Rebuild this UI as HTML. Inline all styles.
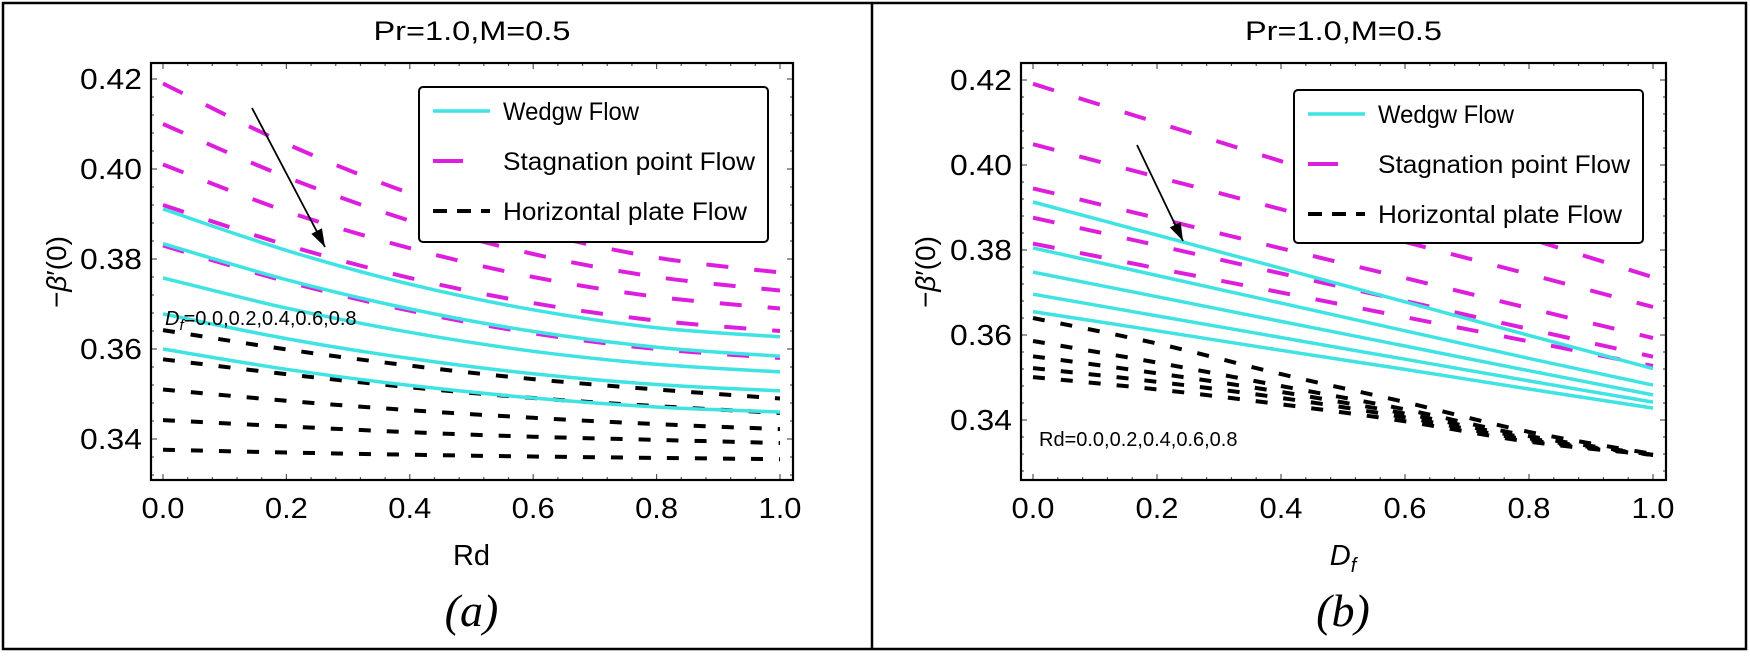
<!DOCTYPE html>
<html><head><meta charset="utf-8"><style>
html,body{margin:0;padding:0;background:#fff;}
svg{display:block;font-family:"Liberation Sans",sans-serif;}
</style></head><body>
<svg id="fig" width="1750" height="657" viewBox="0 0 1750 657" xmlns="http://www.w3.org/2000/svg">
<rect x="0" y="0" width="1750" height="657" fill="#fff"/>
<rect x="3" y="3" width="1743" height="646" fill="none" stroke="#000" stroke-width="2.5"/>
<line x1="872" y1="3" x2="872" y2="649" stroke="#000" stroke-width="2.5"/>
</svg>
<script>
// shared data
const xCats = [0, 0.2, 0.4, 0.6, 0.8, 1.0];
const xTickLabels = ["0.0","0.2","0.4","0.6","0.8","1.0"];
const yTickValues = [0.42, 0.40, 0.38, 0.36, 0.34];
const yTickLabels = ["0.42","0.40","0.38","0.36","0.34"];
// panel (a): x = Rd
const aWedge = [
 [0.3911,0.3819,0.3744,0.3687,0.3647,0.3627],
 [0.3834,0.3754,0.3689,0.3639,0.3604,0.3584],
 [0.3758,0.3691,0.3637,0.3595,0.3566,0.3549],
 [0.3678,0.3623,0.3579,0.3545,0.3521,0.3507],
 [0.3600,0.3555,0.3519,0.3491,0.3471,0.3460]];
const aStag = [
 [0.4190,0.4056,0.3946,0.3862,0.3803,0.3770],
 [0.4100,0.3982,0.3885,0.3811,0.3760,0.3730],
 [0.4010,0.3906,0.3824,0.3760,0.3716,0.3690],
 [0.3920,0.3831,0.3758,0.3702,0.3663,0.3640],
 [0.3830,0.3750,0.3685,0.3635,0.3600,0.3580]];
const aPlate = [
 [0.3642,0.3599,0.3563,0.3533,0.3510,0.3490],
 [0.3577,0.3544,0.3515,0.3491,0.3473,0.3458],
 [0.3510,0.3485,0.3464,0.3447,0.3433,0.3422],
 [0.3442,0.3428,0.3415,0.3405,0.3398,0.3391],
 [0.3376,0.3370,0.3365,0.3361,0.3358,0.3355]];
// panel (b): x = Df
const bWedge = [
 [0.3913,0.3835,0.3757,0.3678,0.3599,0.3521],
 [0.3805,0.3740,0.3675,0.3610,0.3545,0.3482],
 [0.3748,0.3690,0.3632,0.3574,0.3516,0.3459],
 [0.3696,0.3645,0.3594,0.3543,0.3492,0.3442],
 [0.3655,0.3610,0.3564,0.3519,0.3473,0.3428]];
const bStag = [
 [0.4191,0.4100,0.4009,0.3918,0.3827,0.3736],
 [0.4049,0.3972,0.3896,0.3819,0.3743,0.3666],
 [0.3945,0.3875,0.3804,0.3734,0.3663,0.3593],
 [0.3876,0.3811,0.3745,0.3680,0.3614,0.3549],
 [0.3815,0.3757,0.3700,0.3642,0.3585,0.3527]];
const bPlate = [
 [0.3640,0.3580,0.3508,0.3442,0.3372,0.3320],
 [0.3586,0.3535,0.3480,0.3425,0.3362,0.3318],
 [0.3550,0.3510,0.3466,0.3415,0.3357,0.3318],
 [0.3522,0.3490,0.3452,0.3406,0.3353,0.3318],
 [0.3501,0.3472,0.3437,0.3397,0.3349,0.3318]];

const NS = "http://www.w3.org/2000/svg";
const svg = document.getElementById('fig');
function mk(tag, attrs, parent){
  const e = document.createElementNS(NS, tag);
  for (const k in attrs) e.setAttribute(k, attrs[k]);
  (parent||svg).appendChild(e);
  return e;
}
function smoothPath(pts){
  let d = "M" + pts[0][0].toFixed(1) + "," + pts[0][1].toFixed(1);
  for (let i=0;i<pts.length-1;i++){
    const p0 = pts[Math.max(0,i-1)], p1 = pts[i], p2 = pts[i+1], p3 = pts[Math.min(pts.length-1,i+2)];
    const c1 = [p1[0]+(p2[0]-p0[0])/6, p1[1]+(p2[1]-p0[1])/6];
    const c2 = [p2[0]-(p3[0]-p1[0])/6, p2[1]-(p3[1]-p1[1])/6];
    d += " C"+c1[0].toFixed(1)+","+c1[1].toFixed(1)+" "+c2[0].toFixed(1)+","+c2[1].toFixed(1)+" "+p2[0].toFixed(1)+","+p2[1].toFixed(1);
  }
  return d;
}

function panel(P){
  const g = mk('g', {});
  
  
  const xs = v => P.x0 + (v - 0) * (P.x1 - P.x0);
  const ys = v => P.y42 + (0.42 - v) * P.k;
  const clipId = P.name + '-clip';
  const cp = mk('clipPath', {id: clipId}, g);
  mk('rect', {x:P.fl, y:P.ft, width:P.fr-P.fl, height:P.fb-P.ft}, cp);
  const t = mk('text', {x:(P.fl+P.fr)/2, y:40, 'font-size':27, 'text-anchor':'middle', textLength:197, lengthAdjust:'spacingAndGlyphs'}, g);
  t.textContent = 'Pr=1.0,M=0.5';
  
  
  const tg = mk('g', {stroke:'#555', 'stroke-width':1.2}, g);
  for (let i=0;i<=25;i++){
    const xv = i/25;
    const px = xs(xv);
    if (px > P.fr) break;
    const major = i%5===0;
    const L = major?6:3;
    mk('line', {x1:px, y1:P.fb, x2:px, y2:P.fb-L}, tg);
    mk('line', {x1:px, y1:P.ft, x2:px, y2:P.ft+L}, tg);
  }
  for (let i=-5;i<=30;i++){
    const v = 0.42 - i*0.004;
    const py = ys(v);
    if (py < P.ft || py > P.fb) continue;
    const major = i%5===0;
    const L = major?6:3;
    mk('line', {x1:P.fl, y1:py, x2:P.fl+L, y2:py}, tg);
    mk('line', {x1:P.fr, y1:py, x2:P.fr-L, y2:py}, tg);
  }
  xTickLabels.forEach((s,i)=>{
    const e = mk('text', {x:xs(xCats[i]), y:518, 'font-size':29, 'text-anchor':'middle', textLength:43, lengthAdjust:'spacingAndGlyphs'}, g);
    e.textContent = s;
    
    
  });
  yTickLabels.forEach((s,i)=>{
    const e = mk('text', {x:P.fl-9, y:ys(yTickValues[i])+10, 'font-size':29, 'text-anchor':'end', textLength:62, lengthAdjust:'spacingAndGlyphs'}, g);
    e.textContent = s;
    
    
  });
  const sg = mk('g', {'clip-path':'url(#'+clipId+')', fill:'none'}, g);
  function drawSet(set, stroke, width, dash, nm){
    set.forEach(vals=>{
      const pts = vals.map((v,i)=>[xs(xCats[i]), ys(v)]);
      const p = mk('path', {d:smoothPath(pts), stroke:stroke, 'stroke-width':width, 'stroke-dasharray':dash}, sg);
      
      
    });
  }
  drawSet(P.plate, '#000', 4, '12 16', 'horizontal-plate-line');
  drawSet(P.stag, '#dd1fdd', 4, '22 26', 'stagnation-line');
  drawSet(P.wedge, '#3fe3e3', 3.5, 'none', 'wedge-line');
  const fr = mk('rect', {x:P.fl, y:P.ft, width:P.fr-P.fl, height:P.fb-P.ft, fill:'none', stroke:'#000', 'stroke-width':2.2}, g);
  
  
  const ar = mk('g', {}, g);
  
  
  const [ax1,ay1,ax2,ay2] = P.arrow;
  mk('line', {x1:ax1,y1:ay1,x2:ax2,y2:ay2, stroke:'#000','stroke-width':1.8}, ar);
  const ang = Math.atan2(ay2-ay1, ax2-ax1), hl=18, hw=6;
  const bx = ax2 - hl*Math.cos(ang), by = ay2 - hl*Math.sin(ang);
  mk('polygon', {points:`${ax2},${ay2} ${bx+hw*Math.sin(ang)},${by-hw*Math.cos(ang)} ${bx-hw*Math.sin(ang)},${by+hw*Math.cos(ang)}`, fill:'#000'}, ar);
  const lg = mk('g', {}, g);
  
  
  mk('rect', {x:P.lg[0], y:P.lg[1], width:P.lg[2]-P.lg[0], height:P.lg[3]-P.lg[1], rx:4, fill:'#fff', stroke:'#000', 'stroke-width':2}, lg);
  const entries = [['Wedgw Flow','#3fe3e3','none',3.5,136],['Stagnation point Flow','#dd1fdd','30 100',4,252],['Horizontal plate Flow','#000','14 10',4,244]];
  entries.forEach((en,i)=>{
    const yy = P.lg[1]+24+i*50;
    const e = mk('g', {}, lg);
    
    
    mk('line', {x1:P.lsx, y1:yy, x2:P.lsx+57, y2:yy, stroke:en[1], 'stroke-width':en[3], 'stroke-dasharray':en[2]}, e);
    const tx = mk('text', {x:P.ltx, y:yy+9, 'font-size':25, textLength:en[4], lengthAdjust:'spacingAndGlyphs'}, e);
    tx.textContent = en[0];
  });
  const an = mk('text', {x:P.ann[0], y:P.ann[1], 'font-size':20}, g);
  
  
  an.innerHTML = P.annHtml;
  const yt = mk('text', {x:0, y:0, 'font-size':28, 'text-anchor':'middle', transform:`translate(${P.ytx},${P.yty}) rotate(-90)`}, g);
  yt.innerHTML = '\u2212<tspan font-style="italic">\u03B2</tspan>\u2032(0)';
  
  
  const xt = mk('text', {x:(P.x0+P.x1)/2, y:565, 'font-size':29, 'text-anchor':'middle'}, g);
  xt.innerHTML = P.xTitle;
  
  
  const cap = mk('text', {x:(P.x0+P.x1)/2, y:626, 'font-size':46, 'text-anchor':'middle', 'font-style':'italic', 'font-family':'"Liberation Serif", serif'}, g);
  cap.textContent = P.caption;
  
  
}

panel({name:'panel-a', fl:151, fr:793, ft:63, fb:480, x0:163, x1:780, y42:79, k:4500,
  wedge:aWedge, stag:aStag, plate:aPlate, arrow:[252,108,325,247],
  lg:[419,87,768,242], lsx:433, ltx:503,
  ann:[165,325], annHtml:'<tspan font-style="italic">D</tspan><tspan font-style="italic" font-size="15" dy="5">f</tspan><tspan dy="-5">=0.0,0.2,0.4,0.6,0.8</tspan>',
  ytx:66, yty:272, xTitle:'Rd', caption:'(a)'});
panel({name:'panel-b', fl:1021, fr:1666, ft:63, fb:480, x0:1033, x1:1653, y42:80, k:4250,
  wedge:bWedge, stag:bStag, plate:bPlate, arrow:[1137,145,1183,241],
  lg:[1294,90,1643,243], lsx:1308, ltx:1378,
  ann:[1039,446], annHtml:'Rd=0.0,0.2,0.4,0.6,0.8',
  ytx:935, yty:272, xTitle:'<tspan font-style="italic">D</tspan><tspan font-style="italic" font-size="20" dy="7">f</tspan>', caption:'(b)'});
</script>
</body></html>
